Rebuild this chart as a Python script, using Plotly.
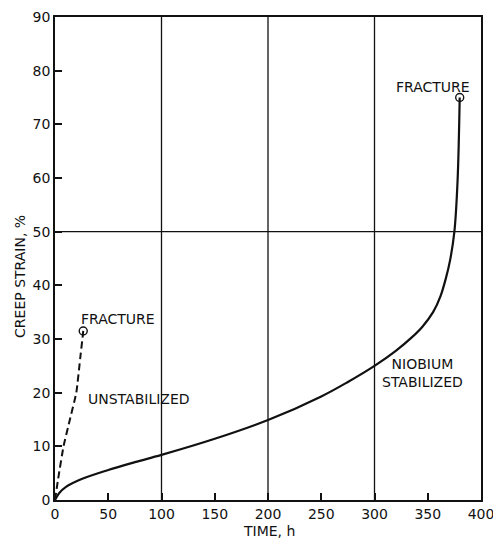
import plotly.graph_objects as go

# Data
niob_time = [0, 4, 10, 25, 50, 75, 100, 150, 200, 250, 275, 300, 320, 335, 345, 355, 362, 367, 371, 375, 378, 380]
niob_strain = [0, 1.3, 2.4, 3.9, 5.6, 7.05, 8.4, 11.4, 14.9, 19.3, 22.0, 25.0, 27.8, 30.3, 32.3, 35.0, 38.0, 41.3, 44.7, 50, 59.5, 75]

unstab_time = [0, 3, 8, 14, 20, 24, 26, 26.5]
unstab_strain = [0, 4, 10, 15, 20, 27, 30.5, 31.5]

x_ticks = [0, 50, 100, 150, 200, 250, 300, 350, 400]
y_ticks = [0, 10, 20, 30, 40, 50, 60, 70, 80, 90]
grid_x = [100, 200, 300]
grid_y = [50]

FONT = "DejaVu Sans"
INK = "#111111"

fig = go.Figure()

fig.add_trace(go.Scatter(
    x=niob_time, y=niob_strain, mode="lines",
    line=dict(color=INK, width=2.2, shape="spline", smoothing=1.0),
    showlegend=False, hoverinfo="skip"))
fig.add_trace(go.Scatter(
    x=[niob_time[-1]], y=[niob_strain[-1]], mode="markers",
    marker=dict(symbol="circle-open", size=8, color=INK, line=dict(width=1.4)),
    showlegend=False, hoverinfo="skip"))

fig.add_trace(go.Scatter(
    x=unstab_time, y=unstab_strain, mode="lines",
    line=dict(color=INK, width=2, dash="7px,4px", shape="spline", smoothing=0.4),
    showlegend=False, hoverinfo="skip"))
fig.add_trace(go.Scatter(
    x=[unstab_time[-1]], y=[unstab_strain[-1]], mode="markers",
    marker=dict(symbol="circle-open", size=8, color=INK, line=dict(width=1.4)),
    showlegend=False, hoverinfo="skip"))

shapes = []
for gx in grid_x:
    shapes.append(dict(type="line", xref="x", yref="paper", x0=gx, x1=gx, y0=0, y1=1,
                       line=dict(color=INK, width=1.3), layer="below"))
for gy in grid_y:
    shapes.append(dict(type="line", xref="paper", yref="y", x0=0, x1=1, y0=gy, y1=gy,
                       line=dict(color=INK, width=1.3), layer="below"))

lab = dict(family=FONT, size=14, color=INK)
annotations = [
    dict(x=58.7, y=33.7, xref="x", yref="y", text="FRACTURE", showarrow=False,
         xanchor="center", yanchor="middle", font=lab),
    dict(x=78.4, y=18.8, xref="x", yref="y", text="UNSTABILIZED", showarrow=False,
         xanchor="center", yanchor="middle", font=lab),
    dict(x=355, y=77, xref="x", yref="y", text="FRACTURE", showarrow=False,
         xanchor="center", yanchor="middle", font=lab),
    dict(x=345, y=23.7, xref="x", yref="y", text="NIOBIUM<br>STABILIZED", showarrow=False,
         xanchor="center", yanchor="middle", align="center", font=lab),
    dict(x=-0.082, y=0.462, xref="paper", yref="paper", text="CREEP STRAIN, %",
         showarrow=False, textangle=-90, xanchor="center", yanchor="middle", font=lab),
    dict(x=0.502, y=-0.064, xref="paper", yref="paper", text="TIME, h",
         showarrow=False, xanchor="center", yanchor="middle", font=lab),
]

fig.update_layout(
    width=493, height=539,
    margin=dict(l=55, r=12, t=17, b=39),
    paper_bgcolor="white", plot_bgcolor="white",
    font=dict(family=FONT, size=14, color=INK),
    shapes=shapes, annotations=annotations,
    xaxis=dict(range=[0, 400], tickvals=x_ticks, ticktext=[str(v) for v in x_ticks],
               ticks="inside", ticklen=7, tickwidth=1.6, tickcolor=INK,
               showgrid=False, zeroline=False, showline=True, linecolor=INK, linewidth=1.5,
               mirror=True, automargin=False, ticklabeloverflow="allow",
               ticklabelstandoff=0, layer="above traces"),
    yaxis=dict(range=[0, 90], tickvals=y_ticks, ticktext=[str(v) for v in y_ticks],
               ticks="inside", ticklen=7, tickwidth=1.6, tickcolor=INK,
               showgrid=False, zeroline=False, showline=True, linecolor=INK, linewidth=1.5,
               mirror=True, automargin=False, ticklabeloverflow="allow",
               ticklabelstandoff=0, layer="above traces"),
)

fig.write_html("out.html")
